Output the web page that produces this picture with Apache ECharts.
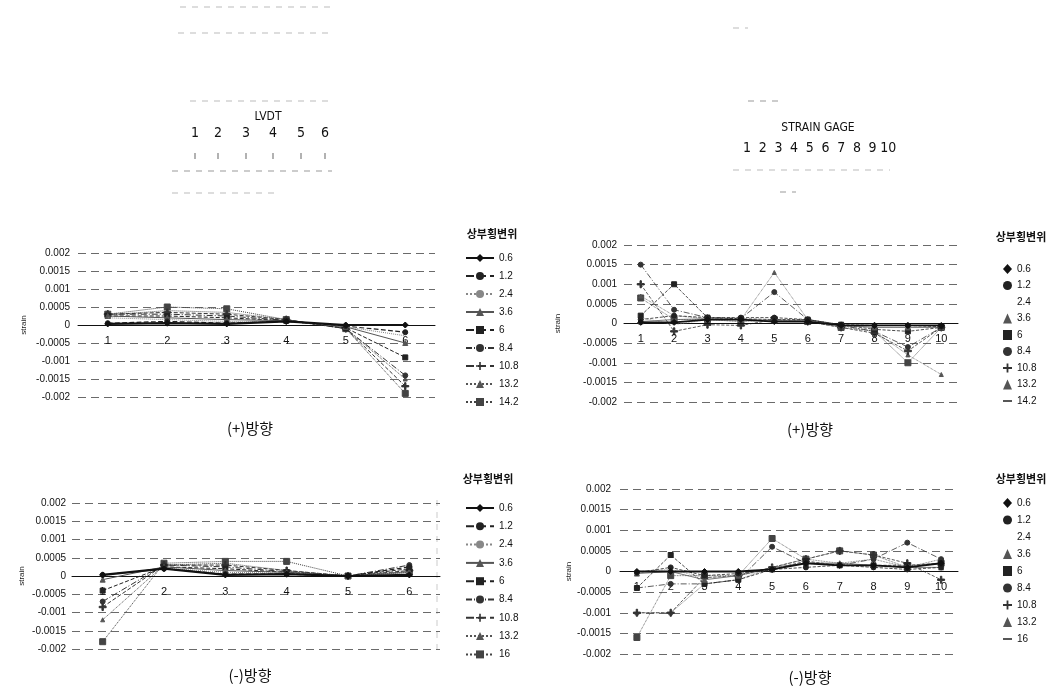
<!DOCTYPE html>
<html>
<head>
<meta charset="utf-8">
<script src="https://cdn.jsdelivr.net/npm/echarts@6/dist/echarts.min.js"></script>
<style>
  html, body { margin: 0; padding: 0; background: #fff; }
  #chart { width: 1057px; height: 692px; }
</style>
</head>
<body>
<div id="chart"></div>
<script>
// categories
var lvdtCats = ['1', '2', '3', '4', '5', '6']
var gageCats = ['1', '2', '3', '4', '5', '6', '7', '8', '9', '10']

// 상부횡변위 (legend names)
var plusNames = ['0.6', '1.2', '2.4', '3.6', '6', '8.4', '10.8', '13.2', '14.2']
var minusNames = ['0.6', '1.2', '2.4', '3.6', '6', '8.4', '10.8', '13.2', '16']

// y axis
var yMin = -0.002
var yMax = 0.002
var yStep = 0.0005

// (+) LVDT
var lvdtPlus = [
  [0.00003, 0.00005, 0.00003, 0.0001, 0.0, 0.0],
  [0.00005, 0.0001, 0.00005, 0.0001, -0.00003, -0.0002],
  [0.0002, 0.00015, 0.0001, 0.0001, -0.00005, -0.0003],
  [0.00025, 0.0002, 0.00015, 0.00012, -0.00005, -0.0005],
  [0.00025, 0.00025, 0.0002, 0.00012, -0.00008, -0.0009],
  [0.0003, 0.0003, 0.00025, 0.00013, -0.0001, -0.0014],
  [0.0003, 0.00035, 0.0003, 0.00015, -0.0001, -0.0017],
  [0.00028, 0.0004, 0.00035, 0.00015, -0.0001, -0.0015],
  [0.0003, 0.0005, 0.00045, 0.00015, -0.0001, -0.0019]
]

// (+) STRAIN GAGE
var gagePlus = [
  [0.00003, 0.00003, 0.0001, 0.0001, 0.00005, 0.00005, -0.00005, -0.00005, -0.00005, -0.00005],
  [0.0001, 0.0002, 0.00015, 0.00015, 0.00015, 0.0001, -0.00003, -0.00005, -0.00005, -0.00008],
  [0.00015, -0.00003, 0.0001, 0.00005, 0.0001, 0.00005, -0.00005, -0.0001, -0.0001, -0.00008],
  [0.00005, 0.0001, 0.00012, 0.0001, 0.00008, 0.00008, -0.00005, -0.0001, -0.0001, -0.0001],
  [0.0002, 0.001, 0.00015, 0.00012, 0.0001, 0.0001, -0.00003, -0.00015, -0.0002, -0.0001],
  [0.0015, 0.00035, 0.00015, 0.00013, 0.0008, 0.0001, -0.00005, -0.0002, -0.0006, -0.0001],
  [0.001, -0.0002, -0.00003, -0.00005, 0.0001, 0.00005, -0.0001, -0.00025, -0.0007, -0.0001],
  [0.0007, 0.0002, 0.00012, 0.0001, 0.0013, 0.0001, -0.00005, -0.0002, -0.0008, -0.0013],
  [0.00065, 0.0001, 0.0001, 0.00005, 0.0001, 0.00005, -0.0001, -0.0002, -0.001, -0.0001]
]

// (-) LVDT
var lvdtMinus = [
  [0.00003, 0.0002, 0.00003, 0.00005, 0.0, 0.00003],
  [0.00003, 0.0002, 0.00005, 0.00005, 0.0, 0.00025],
  [0.0, 0.00022, 0.0001, 0.00008, 0.0, 0.0001],
  [-0.0001, 0.00025, 0.00015, 0.0001, 0.0, 0.00012],
  [-0.0004, 0.00025, 0.0002, 0.0001, 0.0, 0.0002],
  [-0.0007, 0.0003, 0.00025, 0.00012, 0.0, 0.0003],
  [-0.00085, 0.0003, 0.0003, 0.00015, 0.0, 0.00015],
  [-0.0012, 0.0003, 0.00035, 0.00015, 0.0, 0.0001],
  [-0.0018, 0.00035, 0.0004, 0.0004, 0.0, 0.0001]
]

// (-) STRAIN GAGE
var gageMinus = [
  [0.0, 0.0, 0.0, 0.0, 0.00005, 0.0002, 0.00015, 0.00015, 0.0001, 0.0002],
  [-0.00003, 0.0001, -0.0001, -0.00005, 0.00005, 0.0001, 0.00015, 0.0001, 0.00005, 0.0001],
  [0.0, 0.00005, -0.00015, -0.0001, 0.00005, 0.0002, 0.0002, 0.0001, 0.00015, 0.0002],
  [-0.00005, 0.0, -0.0002, -0.0001, 0.0001, 0.0002, 0.0002, 0.00015, 0.0001, 0.0001],
  [-0.0004, 0.0004, -0.0003, -0.0002, 0.00005, 0.00025, 0.00015, 0.00015, 0.00015, 0.0002],
  [-0.0004, -0.0003, -0.0003, -0.0002, 0.0006, 0.0002, 0.00015, 0.0003, 0.0007, 0.0003],
  [-0.001, -0.001, -0.00015, -0.0001, 0.0001, 0.0003, 0.0005, 0.0004, 0.0002, -0.0002],
  [-0.001, -0.001, -0.0003, -0.0002, 0.0001, 0.0003, 0.0002, 0.0003, 0.0001, 0.0003],
  [-0.0016, -0.0001, -0.0001, -0.0001, 0.0008, 0.0003, 0.0005, 0.0004, 0.0001, 0.0002]
]

// top sketch labels
var lvdtLabels = ['1', '2', '3', '4', '5', '6']
var gageLabels = ['1', '2', '3', '4', '5', '6', '7', '8', '9', '10']

var plusPath = 'path://M4,0L6,0L6,4L10,4L10,6L6,6L6,10L4,10L4,6L0,6L0,4L4,4Z'
var dashPath = 'path://M0,4L10,4L10,6L0,6Z'
var styles = [
  { symbol: 'diamond', size: 6, color: '#111', width: 2.2, type: 'solid' },
  { symbol: 'circle', size: 5, color: '#222', width: 1.2, type: 'dashed' },
  { symbol: 'none', size: 0, color: '#888', width: 1, type: 'dotted' },
  { symbol: 'triangle', size: 5, color: '#555', width: 1, type: 'solid' },
  { symbol: 'rect', size: 5, color: '#222', width: 1, type: 'dashed' },
  { symbol: 'circle', size: 5, color: '#333', width: 1, type: [6, 2, 1, 2] },
  { symbol: plusPath, size: 7, color: '#333', width: 1, type: 'dashed' },
  { symbol: 'triangle', size: 4, color: '#555', width: 1, type: 'dotted' },
  { symbol: dashPath, size: 6, color: '#444', width: 1, type: 'dotted' }
]

var grids = [
  { left: 78, top: 253, width: 357, height: 144 },
  { left: 624, top: 245, width: 334, height: 157 },
  { left: 72, top: 503, width: 368, height: 146 },
  { left: 620, top: 489, width: 338, height: 165 }
]
var nameGaps = [50, 62, 46, 46]
var labelMargins = [8, 7, 6, 9]
var panelCats = [lvdtCats, gageCats, lvdtCats, gageCats]
var panelNames = [plusNames, plusNames, minusNames, minusNames]
var panelData = [lvdtPlus, gagePlus, lvdtMinus, gageMinus]

var font = '"Liberation Sans", Arial, sans-serif'
var krFont = '"Noto Sans CJK KR", sans-serif'

var xAxes = []
var yAxes = []
var series = []
var legends = []

panelData.forEach(function (rows, g) {
  var isGage = g % 2 === 1
  xAxes.push({
    type: 'category',
    gridIndex: g,
    data: panelCats[g],
    // the zero value sits at the middle of the symmetric y range
    offset: -grids[g].height / 2,
    axisLine: { onZero: false, lineStyle: { color: '#111', width: 1 } },
    axisTick: { show: false },
    axisLabel: { fontSize: 11, color: '#111', margin: 10, fontFamily: font },
    splitLine: { show: false },
    z: 5
  })
  yAxes.push({
    type: 'value',
    gridIndex: g,
    min: yMin,
    max: yMax,
    interval: yStep,
    name: 'strain',
    nameLocation: 'middle',
    nameGap: nameGaps[g],
    nameTextStyle: { fontSize: 8, color: '#222', fontFamily: font },
    axisLine: { show: false },
    axisTick: { show: false },
    axisLabel: { fontSize: 10, color: '#111', margin: labelMargins[g], fontFamily: font },
    splitLine: { lineStyle: { color: '#6a6a6a', type: [8, 5], width: 1 } }
  })
  rows.forEach(function (vals, i) {
    var st = styles[i]
    series.push({
      name: panelNames[g][i],
      type: 'line',
      xAxisIndex: g,
      yAxisIndex: g,
      data: vals,
      symbol: st.symbol,
      symbolSize: st.size,
      showSymbol: st.symbol !== 'none',
      lineStyle: { color: st.color, width: isGage ? Math.max(0.8, st.width - 0.4) : st.width, type: st.type },
      itemStyle: { color: st.color, borderColor: st.color },
      emphasis: { disabled: true },
      animation: false,
      z: 10 - i
    })
  })
  var top = [248, 259, 498, 493][g]
  var gap = [8, 6.5, 8.3, 7][g]
  legends.push({
    orient: 'vertical',
    left: isGage ? 998 : 460,
    top: top,
    itemWidth: isGage ? 9 : 28,
    itemHeight: 10,
    itemGap: gap,
    selectedMode: false,
    textStyle: { fontSize: 10, color: '#111', fontFamily: font, lineHeight: 10 },
    data: panelNames[g].map(function (n, i) {
      var st = styles[i]
      if (!isGage) return { name: n }
      return {
        name: n,
        icon: st.symbol === 'none' ? 'rect' : st.symbol,
        itemStyle: { color: st.color, opacity: st.symbol === 'none' ? 0 : 1 }
      }
    })
  })
})

// free text and sketch decoration
var graphics = []
function txt (x, y, s, size, family, weight) {
  graphics.push({
    type: 'text',
    x: x,
    y: y,
    style: {
      text: s,
      fontSize: size,
      fontFamily: family,
      fontWeight: weight || 'normal',
      fill: '#111',
      align: 'center',
      verticalAlign: 'middle'
    }
  })
}
function dash (x1, y1, x2, y2, color) {
  graphics.push({
    type: 'line',
    shape: { x1: x1, y1: y1, x2: x2, y2: y2 },
    style: { stroke: color || '#bbb', lineWidth: 1, lineDash: [6, 6] }
  })
}

txt(250, 428, '(+)방향', 15, krFont)
txt(810, 429, '(+)방향', 15, krFont)
txt(250, 675, '(-)방향', 15, krFont)
txt(810, 677, '(-)방향', 15, krFont)
txt(492, 234, '상부횡변위', 11, krFont, 'bold')
txt(1021, 237, '상부횡변위', 11, krFont, 'bold')
txt(488, 479, '상부횡변위', 11, krFont, 'bold')
txt(1021, 479, '상부횡변위', 11, krFont, 'bold')

var narrow = '"Liberation Sans Narrow", "DejaVu Sans Condensed", sans-serif'
txt(268, 117, 'LVDT', 12, narrow)
var lvdtX = [195, 218, 246, 273, 301, 325]
lvdtLabels.forEach(function (s, i) {
  txt(lvdtX[i], 133, s, 14, narrow)
  dash(lvdtX[i], 153, lvdtX[i], 162, '#666')
})
txt(818, 128, 'STRAIN GAGE', 12, narrow)
gageLabels.forEach(function (s, i) {
  txt(747 + i * 15.7, 148, s, 14, narrow)
})

dash(180, 7, 333, 7)
dash(178, 33, 333, 33)
dash(190, 101, 333, 101)
dash(172, 171, 332, 171, '#999')
dash(172, 193, 280, 193)
dash(733, 28, 748, 28)
dash(748, 101, 782, 101, '#999')
dash(733, 170, 890, 170)
dash(780, 192, 796, 192, '#999')
dash(437, 500, 437, 650, '#ccc')

var chart = echarts.init(document.getElementById('chart'))
chart.setOption({
  backgroundColor: '#fff',
  animation: false,
  grid: grids,
  xAxis: xAxes,
  yAxis: yAxes,
  legend: legends,
  series: series,
  graphic: graphics
})
</script>
</body>
</html>
